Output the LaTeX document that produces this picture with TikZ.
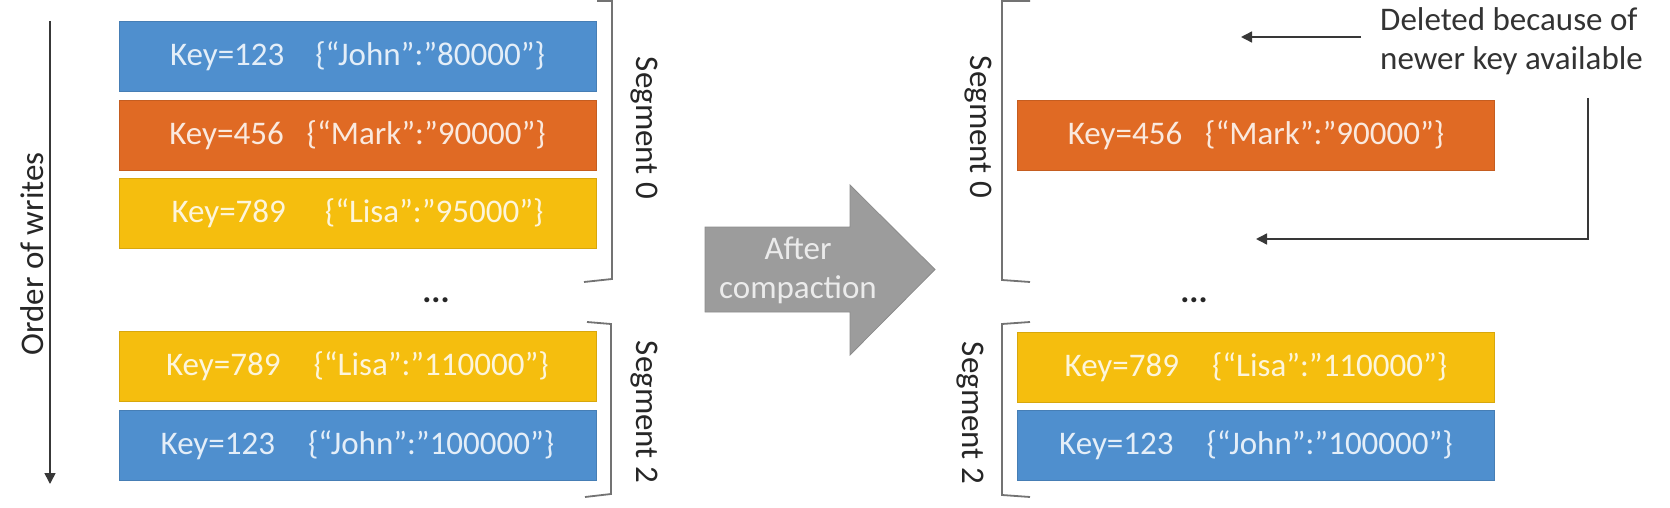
\documentclass[tikz,border=0pt]{standalone}
\usepackage{fontspec}
\setmainfont{Carlito}
\usetikzlibrary{arrows.meta}
\definecolor{kblue}{HTML}{4F8FCE}
\definecolor{korange}{HTML}{E06A24}
\definecolor{kyellow}{HTML}{F5BE0E}
\definecolor{kgray}{HTML}{9C9C9C}
\definecolor{ktext}{HTML}{262626}
\newcommand\kvtext[3]{#1\hspace{#2pt}\textbraceleft#3\textbraceright}
\begin{document}
\begin{tikzpicture}[x=1pt,y=-1pt,
  font=\fontsize{33}{39}\selectfont,
  kvbox/.style={rectangle, minimum width=477pt, minimum height=70pt, inner sep=0pt,
    draw=#1!88!black, fill=#1, text=white!85!#1, line width=0.8pt},
  brk/.style={draw=black!55, line width=1.8pt},
  conn/.style={draw=black!78, line width=1.6pt, -{Triangle[length=11pt,width=11pt]}},
  seglabel/.style={text=ktext, rotate=-90, inner sep=0pt},
  dots/.style={text=ktext, font=\fontsize{34}{37}\selectfont\bfseries},
  bigarrow/.style={fill=kgray, draw=black!45, line width=0.8pt}]
\useasboundingbox (0,0) rectangle (1670,508);

% ---- left column ----
\coordinate (ow1) at (50,21);
\coordinate (ow2) at (50,484);
\draw[conn] (ow1) -- (ow2);
\node[text=ktext, rotate=90, inner sep=0pt] (ow) at (32,254) {Order of writes};

\node[kvbox=kblue]   (l1) at (357.5,56.5) {\kvtext{Key=123}{31}{“John”:”80000”}};
\node[kvbox=korange] (l2) at (357.5,135)  {\kvtext{Key=456}{23}{“Mark”:”90000”}};
\node[kvbox=kyellow] (l3) at (357.5,213.5) {\kvtext{Key=789}{39}{“Lisa”:”95000”}};
\node[dots] (ldots) at (436,300) {...};
\node[kvbox=kyellow] (l4) at (357.5,366.5) {\kvtext{Key=789}{33}{“Lisa”:”110000”}};
\node[kvbox=kblue]   (l5) at (357.5,445)  {\kvtext{Key=123}{33}{“John”:”100000”}};

\draw[brk] (597,1) -- (612,1) -- (612,279) -- (584,282);
\draw[brk] (587,322) -- (611,324) -- (611,494) -- (585,497);
\node[seglabel] (ls0) at (644,128) {Segment 0};
\node[seglabel] (ls2) at (644,412) {Segment 2};

% ---- big arrow ----
\draw[bigarrow] (705,227) -- (850,227) -- (850,185) -- (935,269.5) -- (850,355) -- (850,312) -- (705,312) -- cycle;
\node[text=white!92!black, align=center, inner sep=0pt] (after) at (798,270) {After\\compaction};

% ---- right column ----
\draw[brk] (1030,1) -- (1002,1) -- (1002,280) -- (1030,282);
\draw[brk] (1030,322) -- (1002,324) -- (1002,495) -- (1030,497);
\node[seglabel] (rs0) at (978,127) {Segment 0};
\node[seglabel] (rs2) at (970,413) {Segment 2};

\node[kvbox=korange] (r2) at (1256,135) {\kvtext{Key=456}{23}{“Mark”:”90000”}};
\node[dots] (rdots) at (1194,300) {...};
\node[kvbox=kyellow] (r4) at (1256,367) {\kvtext{Key=789}{33}{“Lisa”:”110000”}};
\node[kvbox=kblue]   (r5) at (1256,445) {\kvtext{Key=123}{33}{“John”:”100000”}};

\node[text=black!80, align=left, anchor=west, inner sep=0pt] (del) at (1380,41) {Deleted because of\\newer key available};

\coordinate (a1s) at (1361,37);
\coordinate (a1e) at (1241,37);
\draw[conn, line width=1.4pt] (a1s) -- (a1e);
\coordinate (a2s) at (1588,98);
\coordinate (a2e) at (1256,239);
\draw[conn, line width=1.4pt] (a2s) |- (a2e);
\end{tikzpicture}
\end{document}
